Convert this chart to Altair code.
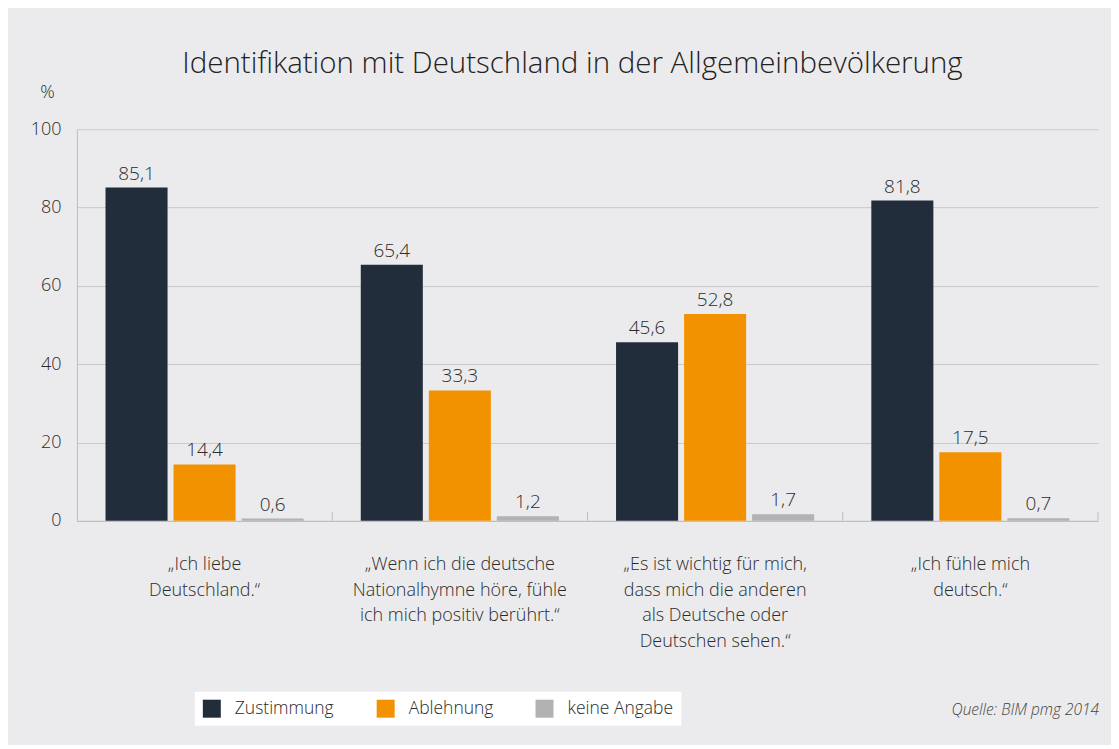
import altair as alt
import pandas as pd

categories = [
    "„Ich liebe\nDeutschland.“",
    "„Wenn ich die deutsche\nNationalhymne höre, fühle\nich mich positiv berührt.“",
    "„Es ist wichtig für mich,\ndass mich die anderen\nals Deutsche oder\nDeutschen sehen.“",
    "„Ich fühle mich\ndeutsch.“",
]
series = ["Zustimmung", "Ablehnung", "keine Angabe"]
zustimmung = [85.1, 65.4, 45.6, 81.8]
ablehnung = [14.4, 33.3, 52.8, 17.5]
keine_angabe = [0.6, 1.2, 1.7, 0.7]
colors = ["#222d3b", "#f39200", "#b2b2b4"]
y_ticks = [0, 20, 40, 60, 80, 100]

rows = []
for s, vals in zip(series, [zustimmung, ablehnung, keine_angabe]):
    for c, v in zip(categories, vals):
        rows.append({"cat": c, "series": s, "value": v})
df = pd.DataFrame(rows)
df_cat = pd.DataFrame({"cat": categories})

FONT = "Open Sans"
TEXT = "#2b2b2b"
W, H = 1022, 392

x_enc = alt.X(
    "cat:N", sort=categories, title=None,
    scale=alt.Scale(paddingInner=0, paddingOuter=0),
    axis=alt.Axis(
        labelExpr="split(datum.label, '\\n')",
        labelAngle=0, labelFontSize=18, labelFont=FONT, labelFontWeight=300,
        labelColor=TEXT, labelLineHeight=25.5, labelPadding=35,
        ticks=False, domainColor="#bdbdbd", labelLimit=400,
    ),
)
xoff = alt.XOffset("series:N", sort=series,
                   scale=alt.Scale(paddingInner=0.088, paddingOuter=0.42))
y_enc = alt.Y(
    "value:Q", scale=alt.Scale(domain=[0, 100], nice=False),
    axis=alt.Axis(
        values=y_ticks, title="%", titleAngle=0, titleX=-30, titleY=-37,
        titleAlign="center", titleBaseline="middle", titleFontSize=18,
        titleFont=FONT, titleFontWeight=300, titleColor=TEXT,
        labelFontSize=18, labelFont=FONT, labelFontWeight=300, labelColor=TEXT,
        labelPadding=16, ticks=False, gridColor="#c9c9cb", domainColor="#bdbdbd",
    ),
)

bars = alt.Chart(df).mark_bar().encode(
    x=x_enc, xOffset=xoff, y=y_enc,
    color=alt.Color(
        "series:N", sort=series,
        scale=alt.Scale(domain=series, range=colors),
        legend=alt.Legend(
            title=None, orient="none", legendX=118, legendY=563,
            direction="horizontal", columns=3, fillColor="white",
            padding=8, symbolType="square", symbolSize=324, symbolStrokeWidth=0,
            symbolOpacity=1, labelFontSize=17.5, labelFont=FONT, labelFontWeight=300,
            labelColor=TEXT, labelOffset=14, columnPadding=42,
        ),
    ),
)

labels = alt.Chart(df).transform_calculate(
    lbl="replace(format(datum.value, '.1f'), '.', ',')"
).mark_text(
    baseline="bottom", dy=-4, fontSize=19, font=FONT, fontWeight=300, color=TEXT
).encode(x=x_enc, xOffset=xoff, y=y_enc, text="lbl:N")

ticks = alt.Chart(df_cat).mark_rule(color="#bdbdbd").encode(
    x=alt.X("cat:N", sort=categories, bandPosition=1),
    y=alt.datum(0), y2=alt.datum(2.3),
)

source = alt.Chart(df_cat.head(1)).mark_text(
    align="right", baseline="middle", fontSize=15.5, font=FONT,
    fontStyle="italic", fontWeight=300, color="#444"
).encode(x=alt.value(W + 1), y=alt.value(581), text=alt.value("Quelle: BIM pmg 2014"))

chart = alt.layer(bars, labels, ticks, source).properties(
    width=W, height=H,
    autosize=alt.AutoSizeParams(type="none"),
    padding={"left": 69, "top": 121, "right": 13, "bottom": 224},
    background="#ebebed",
    title=alt.TitleParams(
        "Identifikation mit Deutschland in der Allgemeinbevölkerung",
        fontSize=29.5, font=FONT, fontWeight=300, color="#222",
        anchor="middle", frame="group", dx=-15, offset=4,
    ),
).configure_view(stroke=None)

chart.save("out.html", embed_options={"renderer": "svg", "actions": False})
